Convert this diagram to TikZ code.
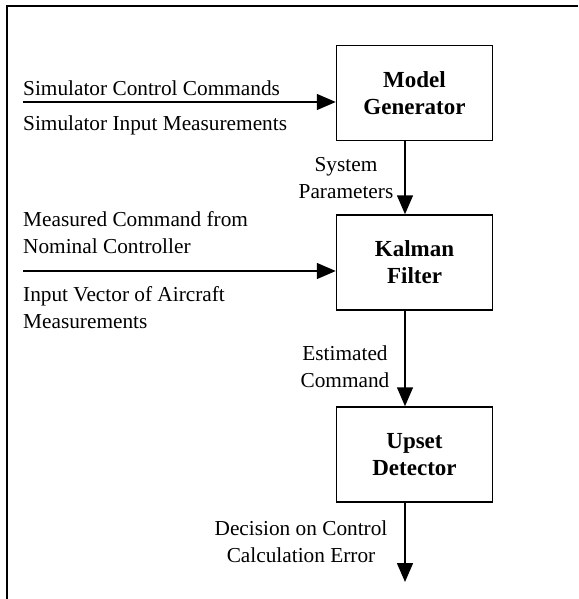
\documentclass[tikz,border=0pt]{standalone}
\usepackage{fontspec}
\setmainfont{Liberation Serif}
\usetikzlibrary{arrows.meta}
\tikzset{
    block/.style={draw, line width=1.5pt, minimum width=156pt, minimum height=95pt,
        align=center, font=\fontsize{23}{27}\selectfont\bfseries},
    txt/.style={inner sep=0pt, font=\fontsize{21.3}{27}\selectfont},
    flow/.style={line width=1.5pt, -{Triangle[length=19pt, width=16pt]}}
}

\begin{document}
\begin{tikzpicture}[x=1pt, y=-1pt]
        \useasboundingbox (0,0) rectangle (578,599);
        \draw[line width=2pt] (578,6) -| (7,599);
        \node[block] (Model) at (414.5,93) {
            Model\\Generator
        };
        \node[block] (Kalman) at (414.5,262.5) {
            Kalman\\Filter
        };
        \node[block] (Upset) at (414.5,454.5) {
            Upset\\Detector
        };
        \coordinate (SimIn) at (23,102);
        \coordinate (NomIn) at (23,271);
        \coordinate (Stem) at (405,0);
        \coordinate (Out) at (405,582);
        \node[txt, anchor=base west] (SimCmd) at (23,96) {
            Simulator Control Commands
        };
        \node[txt, anchor=base west] (SimMeas) at (23,131) {
            Simulator Input Measurements
        };
        \node[txt, anchor=north west, align=left] (NomCmd) at (23,211) {
            Measured Command from\\Nominal Controller
        };
        \node[txt, anchor=north west, align=left] (AcMeas) at (23,286) {
            Input Vector of Aircraft\\Measurements
        };
        \node[txt, anchor=north, align=center] (SysPar) at (346,157) {
            System\\Parameters
        };
        \node[txt, anchor=north, align=center] (EstCmd) at (345,346) {
            Estimated\\Command
        };
        \node[txt, anchor=north, align=center] (Decision) at (301,521) {
            Decision on Control\\Calculation Error
        };
        \draw[flow] (SimIn) -- (SimIn -| Model.west);
        \draw[flow] (NomIn) -- (NomIn -| Kalman.west);
        \draw[flow] (Model.south -| Stem) -- (Kalman.north -| Stem);
        \draw[flow] (Kalman.south -| Stem) -- (Upset.north -| Stem);
        \draw[flow] (Upset.south -| Stem) -- (Out);
\end{tikzpicture}
\end{document}
